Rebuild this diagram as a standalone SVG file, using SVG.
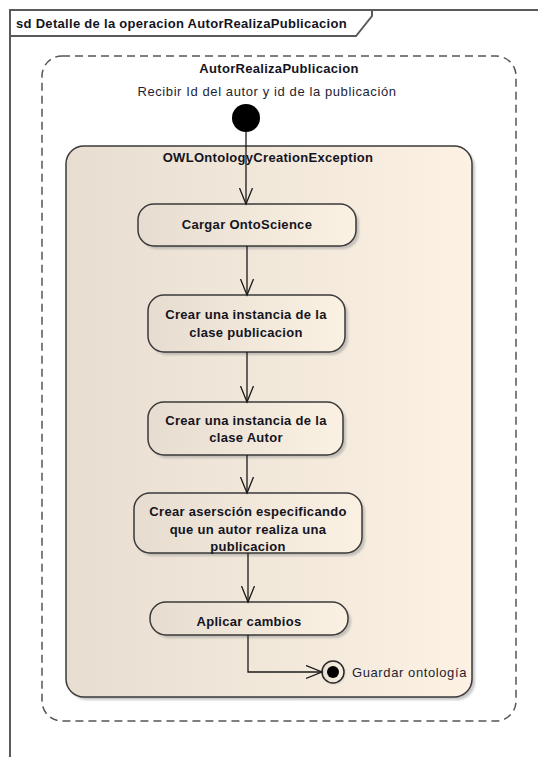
<svg xmlns="http://www.w3.org/2000/svg" width="538" height="757" viewBox="0 0 538 757">
  <style>
    .frame { fill: none; stroke: #5a5a5a; stroke-width: 2; }
    .bold { font-family: "Liberation Sans", Arial, sans-serif; font-size: 13px; font-weight: bold; fill: #14141e; letter-spacing: 0.3px; }
    .reg { font-family: "Liberation Sans", Arial, sans-serif; font-size: 13px; fill: #1e1e32; letter-spacing: 0.6px; }
    .mid { text-anchor: middle; }
    .act { fill: url(#actFill); stroke: #3a3a3a; stroke-width: 1.5; }
    .shadow { fill: #9a9a9a; opacity: 0.55; filter: url(#soft); }
    .edge { fill: none; stroke: #1a1a1a; stroke-width: 1.3; marker-end: url(#open); }
  </style>
  <defs>
    <linearGradient id="actFill" x1="0" y1="0" x2="1" y2="0">
      <stop offset="0" stop-color="#e6ddd0"/>
      <stop offset="1" stop-color="#fbf1e3"/>
    </linearGradient>
    <linearGradient id="regionFill" x1="0" y1="0" x2="1" y2="0">
      <stop offset="0" stop-color="#e7ded1"/>
      <stop offset="1" stop-color="#fcf1e3"/>
    </linearGradient>
    <filter id="soft" x="-5%" y="-5%" width="110%" height="110%">
      <feGaussianBlur stdDeviation="1.2"/>
    </filter>
    <marker id="open" markerUnits="userSpaceOnUse" markerWidth="20" markerHeight="16" refX="16" refY="7" orient="auto">
      <path d="M0,0.5 L16,7 L0,13.5" fill="none" stroke="#1a1a1a" stroke-width="1.3"/>
    </marker>
  </defs>

  <!-- sequence diagram frame -->
  <g id="frame">
    <path class="frame" d="M10,757 V10 H538"/>
    <path class="frame" d="M10,36 H356 L372,16 V10"/>
    <text class="bold" x="16" y="28">sd Detalle de la operacion AutorRealizaPublicacion</text>
  </g>

  <!-- activity boundary -->
  <g id="activity">
    <rect x="42" y="56" width="474" height="665" rx="20" fill="none" stroke="#555" stroke-width="1.5" stroke-dasharray="8 5"/>
    <text class="bold mid" x="279" y="73">AutorRealizaPublicacion</text>
    <text class="reg mid" x="267" y="96">Recibir Id del autor y id de la publicación</text>
  </g>

  <!-- interruptible region -->
  <g id="region">
    <rect class="shadow" x="69" y="149" width="406" height="551" rx="18"/>
    <rect x="66" y="146" width="406" height="551" rx="18" fill="url(#regionFill)" stroke="#3a3a3a" stroke-width="1.5"/>
    <text class="bold mid" x="268" y="162">OWLOntologyCreationException</text>
  </g>

  <g id="initial">
    <circle cx="246" cy="118" r="14" fill="#000"/>
  </g>

  <g id="cargar">
    <rect class="shadow" x="141" y="207" width="218" height="42" rx="16"/>
    <rect class="act" x="138" y="204" width="218" height="42" rx="16"/>
    <text class="bold mid" x="247" y="229">Cargar OntoScience</text>
  </g>

  <g id="instPublicacion">
    <rect class="shadow" x="151" y="298" width="197" height="57" rx="16"/>
    <rect class="act" x="148" y="295" width="197" height="57" rx="16"/>
    <text class="bold mid" x="246" y="319">Crear una instancia de la</text>
    <text class="bold mid" x="246" y="337">clase publicacion</text>
  </g>

  <g id="instAutor">
    <rect class="shadow" x="151" y="405" width="195" height="53" rx="16"/>
    <rect class="act" x="148" y="402" width="195" height="53" rx="16"/>
    <text class="bold mid" x="246" y="425">Crear una instancia de la</text>
    <text class="bold mid" x="246" y="442">clase Autor</text>
  </g>

  <g id="asercion">
    <rect class="shadow" x="137" y="496" width="228" height="60" rx="16"/>
    <rect class="act" x="134" y="493" width="228" height="60" rx="16"/>
    <text class="bold mid" x="248" y="516">Crear asersción especificando</text>
    <text class="bold mid" x="248" y="534">que un autor realiza una</text>
    <text class="bold mid" x="248" y="551">publicacion</text>
  </g>

  <g id="aplicar">
    <rect class="shadow" x="153" y="605" width="198" height="33" rx="16"/>
    <rect class="act" x="150" y="602" width="198" height="33" rx="16"/>
    <text class="bold mid" x="249" y="626">Aplicar cambios</text>
  </g>

  <g id="final">
    <circle cx="334" cy="673" r="11" fill="#9a9a9a" opacity="0.5" filter="url(#soft)"/>
    <circle cx="333" cy="672" r="11" fill="url(#actFill)" stroke="#2a2a2a" stroke-width="1.5"/>
    <circle cx="333" cy="672" r="6" fill="#000"/>
    <text class="reg" x="352" y="677">Guardar ontología</text>
  </g>

  <!-- control flows -->
  <g id="connectors">
    <path class="edge" d="M246,132 V204"/>
    <path class="edge" d="M247,246 V295"/>
    <path class="edge" d="M247,352 V402"/>
    <path class="edge" d="M247,455 V493"/>
    <path class="edge" d="M248,553 V602"/>
    <path class="edge" d="M248,635 V672 H322"/>
  </g>
</svg>
